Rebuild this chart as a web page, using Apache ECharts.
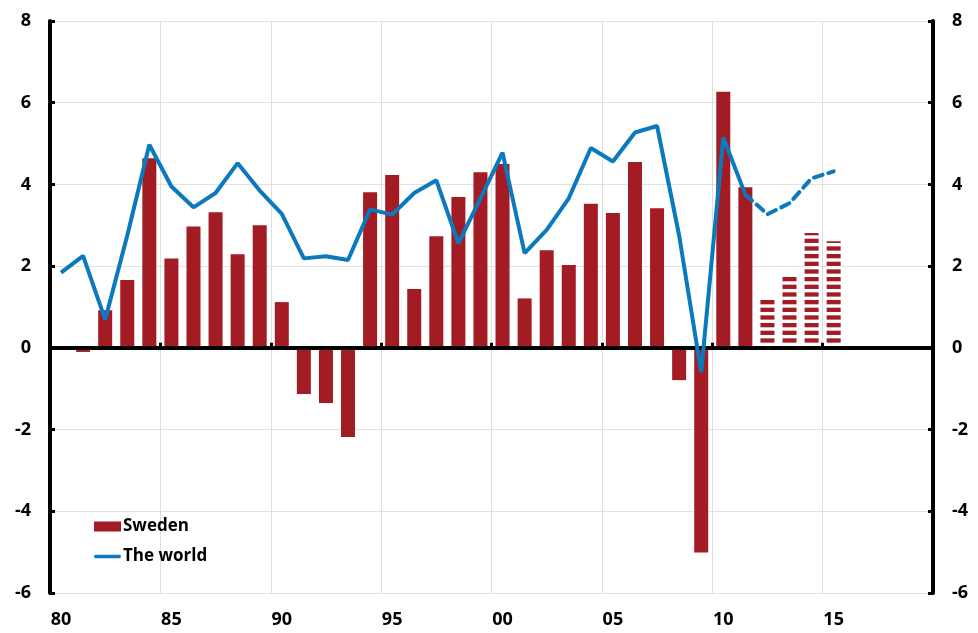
<!DOCTYPE html>
<html>
<head>
<meta charset="utf-8">
<title>Sweden and the world</title>
<script src="https://cdn.jsdelivr.net/npm/echarts@6/dist/echarts.min.js"></script>
<style>
  html, body { margin: 0; padding: 0; background: #fff; }
  #chart { width: 978px; height: 633px; }
</style>
</head>
<body>
<div id="chart"></div>
<script>
// years on the axis (1980-2019)
var years = ['1980','1981','1982','1983','1984','1985','1986','1987','1988','1989',
             '1990','1991','1992','1993','1994','1995','1996','1997','1998','1999',
             '2000','2001','2002','2003','2004','2005','2006','2007','2008','2009',
             '2010','2011','2012','2013','2014','2015','2016','2017','2018','2019'];
// Sweden, annual change, 1980-2015 (2012 onwards = forecast)
var sweden = [null, -0.1, 0.92, 1.66, 4.64, 2.19, 2.97, 3.32, 2.29, 3.0,
              1.12, -1.13, -1.35, -2.18, 3.81, 4.23, 1.44, 2.73, 3.69, 4.30,
              4.50, 1.21, 2.39, 2.03, 3.53, 3.30, 4.55, 3.42, -0.79, -5.01,
              6.27, 3.93, 1.22, 1.81, 2.81, 2.61];
// the world, 1980-2015
var world = [1.84, 2.25, 0.69, 2.75, 4.97, 3.95, 3.44, 3.79, 4.52, 3.85,
             3.28, 2.19, 2.24, 2.15, 3.39, 3.26, 3.79, 4.10, 2.56, 3.66,
             4.78, 2.32, 2.89, 3.66, 4.89, 4.56, 5.27, 5.43, 2.75, -0.60,
             5.15, 3.75, 3.27, 3.54, 4.15, 4.32];
var lastOutcome = '2011';   // forecast starts the year after
var yTicks = [-6, -4, -2, 0, 2, 4, 6, 8];

var RED = '#A31C24', BLUE = '#0A79BE';
var FONT = '"Open Sans", "DejaVu Sans", sans-serif';

// striped fill for the forecast bars
function stripes() {
  var c = document.createElement('canvas');
  c.width = 4; c.height = 23;
  var g = c.getContext('2d');
  g.fillStyle = '#fff';
  g.fillRect(0, 0, 4, 23);
  g.fillStyle = RED;
  for (var k = 0; k < 3; k++) g.fillRect(0, k * 23 / 3 + 1, 4, 4.3);
  return c;
}

var cut = years.indexOf(lastOutcome);
var pattern = { image: stripes(), repeat: 'repeat' };

var barData = [], solid = [], dashed = [];
for (var i = 0; i < sweden.length; i++) {
  if (i > cut) barData.push({ value: sweden[i], itemStyle: { color: pattern } });
  else barData.push(sweden[i]);
  solid.push(i <= cut ? world[i] : null);
  dashed.push(i >= cut ? world[i] : null);
}

var myChart = echarts.init(document.getElementById('chart'));
var yLabel = { color: '#000', fontFamily: FONT, fontWeight: 'bold', fontSize: 18, margin: 19 };
var option = {
  animation: false,
  backgroundColor: '#fff',
  grid: { left: 50, right: 45, top: 21, bottom: 40 },
  legend: {
    orient: 'vertical',
    left: 89, top: 513,
    itemWidth: 27, itemHeight: 10, itemGap: 13,
    textStyle: { color: '#000', fontFamily: FONT, fontWeight: 'bold', fontSize: 17, padding: [0, 0, 0, -3] },
    data: [
      { name: 'Sweden', icon: 'rect' },
      { name: 'The world', icon: 'path://M2,0 H98 A2,2 0 0 1 98,14 H2 A2,2 0 0 1 2,0 Z' }
    ]
  },
  xAxis: [{
    type: 'category',
    data: years,
    position: 'bottom',
    axisLine: { show: false, onZero: false },
    axisTick: { show: false },
    axisLabel: {
      interval: 4, margin: 18, color: '#000',
      fontFamily: FONT, fontWeight: 'bold', fontSize: 18,
      formatter: function (v) { return v.slice(2); }
    },
    splitLine: { show: true, interval: 4, lineStyle: { color: '#dedede', width: 1 } }
  }, {
    type: 'category',
    data: years,
    position: 'top',
    z: 3,
    axisLine: { onZero: true, lineStyle: { color: '#000', width: 4 } },
    axisTick: { show: true, interval: 4, length: 5, inside: false, lineStyle: { color: '#000', width: 3 } },
    axisLabel: { show: false },
    splitLine: { show: false }
  }],
  yAxis: [{
    type: 'value', position: 'left',
    min: yTicks[0], max: yTicks[yTicks.length - 1], interval: 2,
    axisLine: { show: true, onZero: false, lineStyle: { color: '#000', width: 4 } },
    axisTick: { show: true, inside: true, length: 5, lineStyle: { color: '#000', width: 3 } },
    axisLabel: yLabel,
    splitLine: { lineStyle: { color: '#e2e2e2', width: 1 } }
  }, {
    type: 'value', position: 'right',
    min: yTicks[0], max: yTicks[yTicks.length - 1], interval: 2,
    axisLine: { show: true, onZero: false, lineStyle: { color: '#000', width: 4 } },
    axisTick: { show: true, inside: true, length: 5, lineStyle: { color: '#000', width: 3 } },
    axisLabel: yLabel,
    splitLine: { show: false }
  }],
  series: [{
    name: 'Sweden',
    type: 'bar',
    barWidth: 14,
    itemStyle: { color: RED },
    data: barData,
    z: 2
  }, {
    name: 'The world',
    type: 'line',
    symbol: 'none',
    lineStyle: { color: BLUE, width: 4 },
    itemStyle: { color: BLUE },
    data: solid,
    z: 5
  }, {
    name: 'The world (forecast)',
    type: 'line',
    symbol: 'none',
    lineStyle: { color: BLUE, width: 4, type: [9, 6], cap: 'round' },
    data: dashed,
    z: 5
  }]
};
myChart.setOption(option);
</script>
</body>
</html>
